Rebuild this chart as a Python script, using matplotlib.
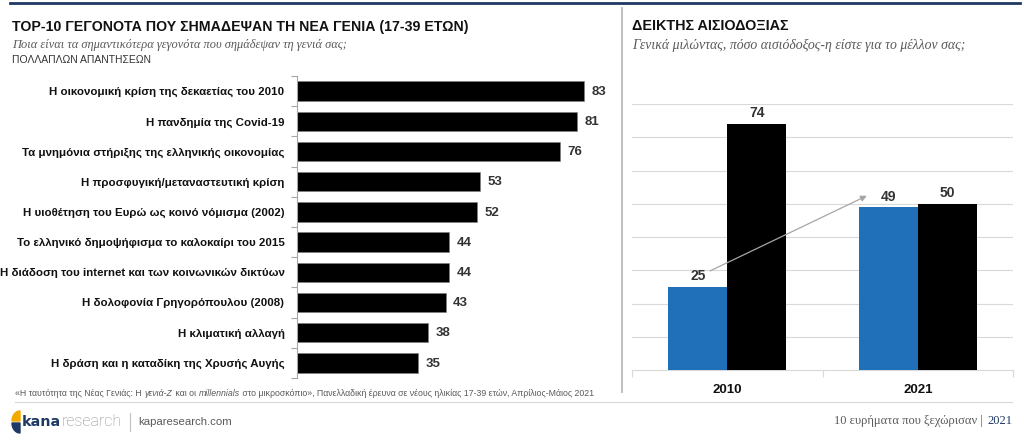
import numpy as np
import matplotlib
matplotlib.use("Agg")
import matplotlib.pyplot as plt
from matplotlib.patches import Polygon
from matplotlib.lines import Line2D
from matplotlib.transforms import IdentityTransform

W, H, DPI = 1024, 441, 100

# no narrow face installed, so Liberation Sans at reduced sizes stands in
NARROW = ["Liberation Sans Narrow", "Liberation Sans", "DejaVu Sans"]
SANS   = ["Liberation Sans", "DejaVu Sans"]
SERIF  = ["Liberation Serif", "DejaVu Serif"]

# left chart: top-10 events
events = [
    "Η οικονομική κρίση της δεκαετίας του 2010",
    "Η πανδημία της Covid-19",
    "Τα μνημόνια στήριξης της ελληνικής οικονομίας",
    "Η προσφυγική/μεταναστευτική κρίση",
    "Η υιοθέτηση του Ευρώ ως κοινό νόμισμα (2002)",
    "Το ελληνικό δημοψήφισμα το καλοκαίρι του 2015",
    "Η διάδοση του internet και των κοινωνικών δικτύων",
    "Η δολοφονία Γρηγορόπουλου (2008)",
    "Η κλιματική αλλαγή",
    "Η δράση και η καταδίκη της Χρυσής Αυγής",
]
event_pct = [83, 81, 76, 53, 52, 44, 44, 43, 38, 35]

# right chart: optimism index
years      = ["2010", "2021"]
blue_vals  = [25, 49]
black_vals = [74, 50]

NAVY = "#1f3864"
BLUE = "#1f70b9"
GREY = "#595959"


def fx(px):
    return px / W


def fy(py):
    return 1 - py / H


fig = plt.figure(figsize=(W / DPI, H / DPI), dpi=DPI)
fig.patch.set_facecolor("white")

# decorations: top rule, divider, footer rule
fig.add_artist(Line2D([fx(10), fx(1020)], [fy(3), fy(3)], color=NAVY, lw=2.0))
fig.add_artist(Line2D([fx(622), fx(622)], [fy(8), fy(392)], color="#bfbfbf", lw=1.4))
fig.add_artist(Line2D([fx(15), fx(1012)], [fy(402), fy(402)], color="#d9d9d9", lw=0.8))

# titles
fig.text(fx(12), fy(27), "TOP-10 ΓΕΓΟΝΟΤΑ ΠΟΥ ΣΗΜΑΔΕΨΑΝ ΤΗ ΝΕΑ ΓΕΝΙΑ (17-39 ΕΤΩΝ)",
         family=NARROW, weight="bold", fontsize=10.2, color="#111111", va="center")
fig.text(fx(12), fy(45), "Ποια είναι τα σημαντικότερα γεγονότα που σημάδεψαν τη γενιά σας;",
         family=SERIF, style="italic", fontsize=8.9, color=GREY, va="center")
fig.text(fx(12), fy(60), "ΠΟΛΛΑΠΛΩΝ ΑΠΑΝΤΗΣΕΩΝ",
         family=NARROW, fontsize=7.5, color="#333333", va="center")

fig.text(fx(632), fy(26), "ΔΕΙΚΤΗΣ ΑΙΣΙΟΔΟΞΙΑΣ",
         family=SANS, weight="bold", fontsize=10.4, color="#111111", va="center")
fig.text(fx(632), fy(45), "Γενικά μιλώντας, πόσο αισιόδοξος-η είστε για το μέλλον σας;",
         family=SERIF, style="italic", fontsize=9.95, color=GREY, va="center")

# ---- left: horizontal bars
axl = fig.add_axes([fx(297), fy(378), fx(311), (378 - 76) / H])
y = np.arange(len(events))
axl.barh(y, event_pct, height=0.64, color="black", edgecolor="#7f7f7f", lw=0.4)
for yi, v in zip(y, event_pct):
    axl.annotate(f"{v}", (v, yi), xytext=(5.5, -0.5), textcoords="offset points",
                 va="center", ha="left", family=NARROW, weight="bold",
                 fontsize=9.5, color="#333333")
axl.set_xlim(0, 90)
axl.set_ylim(len(events) - 0.5, -0.5)
axl.set_yticks(y)
axl.set_yticklabels(events, family=NARROW, weight="bold", fontsize=8.25, color="#111111")
axl.set_yticks(np.arange(-0.5, len(events)), minor=True)
axl.tick_params(axis="y", which="major", length=0, pad=9)
axl.tick_params(axis="y", which="minor", length=4, color="#a6a6a6", width=0.8)
axl.set_xticks([])
for s in ["top", "right", "bottom"]:
    axl.spines[s].set_visible(False)
axl.spines["left"].set_color("#a6a6a6")
axl.spines["left"].set_linewidth(0.8)
axl.patch.set_alpha(0)

# ---- right: grouped vertical bars
axr = fig.add_axes([fx(632), fy(370), fx(381), (370 - 104) / H])
x = np.arange(len(years))
bw, off = 0.31, 0.155
axr.bar(x - off, blue_vals, width=bw, color=BLUE, zorder=3)
axr.bar(x + off, black_vals, width=bw, color="black", zorder=3)
for xi, v in zip(x - off, blue_vals):
    axr.annotate(f"{v}", (xi, v), xytext=(0, 2.5), textcoords="offset points",
                 ha="center", va="bottom", family=SANS, weight="bold",
                 fontsize=10, color="#333333")
for xi, v in zip(x + off, black_vals):
    axr.annotate(f"{v}", (xi, v), xytext=(0, 2.5), textcoords="offset points",
                 ha="center", va="bottom", family=SANS, weight="bold",
                 fontsize=10, color="#333333")
axr.annotate("", xy=(0.733, 52.4), xytext=(-0.09, 29.8),
             arrowprops=dict(arrowstyle="-|>", color="#a6a6a6", lw=0.9,
                             mutation_scale=9, shrinkA=0, shrinkB=0), zorder=4)
axr.set_xlim(-0.5, 1.5)
axr.set_ylim(0, 80)
axr.set_yticks(np.arange(10, 81, 10))
axr.yaxis.grid(True, color="#d9d9d9", lw=0.8, zorder=0)
axr.tick_params(axis="y", length=0, labelleft=False)
axr.set_xticks(x)
axr.set_xticklabels(years, family=SANS, weight="bold", fontsize=9.5, color="#111111")
axr.set_xticks([-0.5, 0.5, 1.5], minor=True)
axr.tick_params(axis="x", which="major", length=0, pad=10)
axr.tick_params(axis="x", which="minor", length=5, color="#d9d9d9", width=0.8)
for s in ["top", "right", "left"]:
    axr.spines[s].set_visible(False)
axr.spines["bottom"].set_color("#d9d9d9")
axr.spines["bottom"].set_linewidth(0.8)

# ---- footer
renderer = fig.canvas.get_renderer()


def chain(pieces, x0, ypx, size, family):
    xx = x0
    for txt, st, col in pieces:
        t = fig.text(fx(xx), fy(ypx), txt, family=family, style=st, fontsize=size,
                     color=col, va="center", ha="left")
        xx = t.get_window_extent(renderer).x1 + 0.5
    return xx


src = [("«Η ταυτότητα της Νέας Γενιάς: Η ", "normal", GREY),
       ("γενιά-Z", "italic", GREY),
       (" και οι ", "normal", GREY),
       ("millennials", "italic", GREY),
       (" στο μικροσκόπιο», Πανελλαδική έρευνα σε νέους ηλικίας 17-39 ετών, Απρίλιος-Μάιος 2021",
        "normal", GREY)]
chain(src, 15, 394, 6.35, NARROW)


# logo mark: left half of a tall ellipse, yellow on top, navy below (display pixels)
def half_leaf(cx, cy, rx, ry, t0, t1):
    th = np.linspace(np.radians(t0), np.radians(t1), 20)
    pts = np.column_stack([cx + rx * np.cos(th), cy + ry * np.sin(th)])
    return np.vstack([[cx, cy], pts])


fig.add_artist(Polygon(half_leaf(20, H - 421, 8, 10, 90, 180), closed=True,
                       color="#f2a900", transform=IdentityTransform()))
fig.add_artist(Polygon(half_leaf(20, H - 423, 8, 10, 180, 270), closed=True,
                       color=NAVY, transform=IdentityTransform()))
t1 = fig.text(fx(22), fy(422), "kana", family=["DejaVu Sans"], weight="bold",
              fontsize=10.4, color=NAVY, va="center")
x1 = t1.get_window_extent(renderer).x1
t2 = fig.text(fx(x1 + 0.5), fy(421), "research", family=["Roboto", "DejaVu Sans"],
              weight="light", fontsize=11.5, color="#8c8c8c", va="center")
x2 = t2.get_window_extent(renderer).x1
fig.add_artist(Line2D([fx(x2 + 8), fx(x2 + 8)], [fy(413), fy(431)], color="#bfbfbf", lw=0.8))
fig.text(fx(x2 + 16), fy(422), "kaparesearch.com", family=NARROW, fontsize=8.2,
         color=GREY, va="center")

tr = fig.text(fx(1012), fy(421), "2021", family=SERIF, fontsize=9, color=NAVY,
              va="center", ha="right")
xr0 = tr.get_window_extent(renderer).x0
fig.text(fx(xr0 - 1), fy(421), "10 ευρήματα που ξεχώρισαν | ", family=SERIF, fontsize=9,
         color=GREY, va="center", ha="right")

fig.savefig("out.png", dpi=DPI)
